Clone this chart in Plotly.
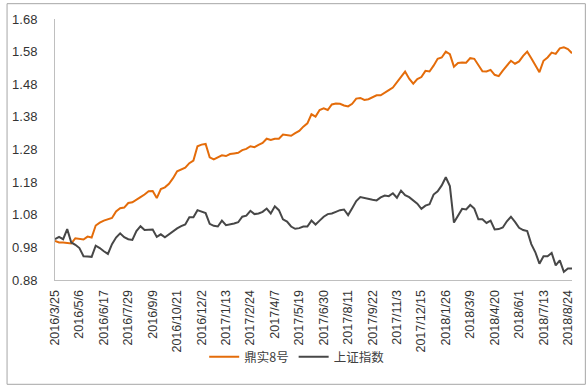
import pandas as pd
import plotly.graph_objects as go

start_date = "2016-03-25"
n_weeks = 128
dates = [f"{d.year}/{d.month}/{d.day}" for d in pd.date_range(start=start_date, periods=n_weeks, freq="7D")]

dingshi8 = [
    1.000, 0.995, 0.995, 0.993, 0.992, 1.008, 1.007, 1.004, 1.013, 1.010,
    1.047, 1.056, 1.062, 1.066, 1.070, 1.090, 1.100, 1.102, 1.116, 1.118,
    1.127, 1.134, 1.142, 1.152, 1.153, 1.131, 1.159, 1.164, 1.175, 1.192,
    1.213, 1.219, 1.224, 1.238, 1.246, 1.290, 1.295, 1.297, 1.256, 1.250,
    1.256, 1.262, 1.260, 1.266, 1.268, 1.270, 1.278, 1.282, 1.290, 1.287,
    1.294, 1.300, 1.313, 1.309, 1.313, 1.313, 1.326, 1.324, 1.322, 1.330,
    1.337, 1.350, 1.360, 1.388, 1.381, 1.401, 1.406, 1.401, 1.418, 1.421,
    1.420, 1.415, 1.412, 1.420, 1.436, 1.438, 1.432, 1.434, 1.440, 1.446,
    1.446, 1.453, 1.462, 1.470, 1.486, 1.505, 1.519, 1.497, 1.482, 1.496,
    1.502, 1.521, 1.519, 1.537, 1.558, 1.562, 1.580, 1.572, 1.534, 1.545,
    1.547, 1.546, 1.560, 1.558, 1.537, 1.520, 1.519, 1.524, 1.509, 1.505,
    1.522, 1.538, 1.552, 1.543, 1.550, 1.567, 1.580, 1.560, 1.540, 1.517,
    1.552, 1.562, 1.577, 1.573, 1.590, 1.593, 1.588, 1.575,
]

shanghai = [
    1.005, 1.012, 1.005, 1.036, 0.995, 0.988, 0.978, 0.953, 0.952, 0.951,
    0.985, 0.978, 0.968, 0.960, 0.990, 1.010, 1.023, 1.011, 1.005, 1.003,
    1.030, 1.045, 1.033, 1.034, 1.035, 1.012, 1.020, 1.011, 1.020, 1.030,
    1.038, 1.045, 1.050, 1.072, 1.072, 1.094, 1.090, 1.085, 1.052, 1.046,
    1.044, 1.062, 1.048, 1.050, 1.053, 1.057, 1.074, 1.077, 1.092, 1.082,
    1.084, 1.089, 1.099, 1.084, 1.106, 1.094, 1.066, 1.059, 1.044, 1.037,
    1.039, 1.044, 1.044, 1.062, 1.050, 1.062, 1.074, 1.082, 1.084, 1.089,
    1.094, 1.096, 1.079, 1.100, 1.122, 1.134, 1.131, 1.127, 1.126, 1.124,
    1.133, 1.139, 1.137, 1.146, 1.132, 1.154, 1.140, 1.134, 1.124, 1.114,
    1.098, 1.108, 1.112, 1.142, 1.152, 1.170, 1.195, 1.168, 1.056, 1.075,
    1.098, 1.096, 1.110, 1.099, 1.066, 1.066, 1.055, 1.062, 1.035, 1.036,
    1.041, 1.060, 1.074, 1.058, 1.040, 1.033, 1.030, 0.990, 0.965, 0.930,
    0.953, 0.953, 0.963, 0.925, 0.940, 0.905, 0.915, 0.915,
]

y_ticks = [0.88, 0.98, 1.08, 1.18, 1.28, 1.38, 1.48, 1.58, 1.68]
x_ticks = dates[::6]

series_names = ["鼎实8号", "上证指数"]
colors = ["#E46C0A", "#474747"]

fig = go.Figure()
fig.add_trace(go.Scatter(x=dates, y=dingshi8, mode="lines", name=series_names[0],
                         line=dict(color=colors[0], width=2)))
fig.add_trace(go.Scatter(x=dates, y=shanghai, mode="lines", name=series_names[1],
                         line=dict(color=colors[1], width=2)))

W, H = 587, 387
L, R, T, B = 49, 15, 16, 107
pw, ph = W - L - R, H - T - B

fig.update_layout(
    width=W, height=H,
    margin=dict(l=L, r=R, t=T, b=B, pad=0),
    paper_bgcolor="white", plot_bgcolor="white",
    font=dict(family="Liberation Sans, Arial, sans-serif", size=12.5, color="#333333"),
    showlegend=True,
    legend=dict(orientation="h", x=(293.5 - L) / pw, xanchor="center", y=(H - B - 358) / ph, yanchor="middle",
                font=dict(family="Noto Sans CJK SC, sans-serif", size=12.5, color="#404040"),
                itemwidth=30, tracegroupgap=0, bgcolor="rgba(0,0,0,0)"),
    xaxis=dict(type="category", range=[0, len(dates) - 1], tickvals=x_ticks, ticktext=x_ticks,
               tickangle=-90, showgrid=False, zeroline=False, showline=True,
               linecolor="#bfbfbf", linewidth=1, ticks="", ticklabelstandoff=4,
               tickfont=dict(size=12.5, color="#333333")),
    yaxis=dict(range=[0.88, 1.68], tickvals=y_ticks, ticktext=[f"{v:.2f}" for v in y_ticks],
               showgrid=False, zeroline=False, showline=True, linecolor="#bfbfbf", linewidth=1,
               ticks="", ticklabelstandoff=14, tickfont=dict(size=13, color="#333333")),
)

fig.add_shape(type="rect", xref="paper", yref="paper",
              x0=(0.5 - L) / pw, x1=(585.5 - L) / pw,
              y0=(H - B - 385.5) / ph, y1=(H - B - 0.5) / ph,
              line=dict(color="#a6a6a6", width=1), fillcolor="rgba(0,0,0,0)", layer="above")

fig.write_html("out.html", config={"displayModeBar": False},
               post_script="document.body.style.margin='0';document.body.style.padding='0';document.documentElement.style.overflow='hidden';")
